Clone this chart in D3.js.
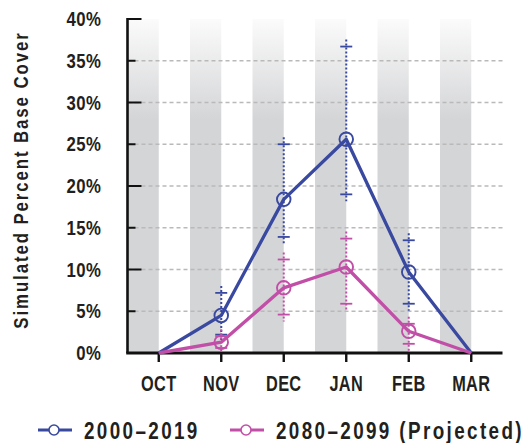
<!DOCTYPE html>
<html>
<head>
<meta charset="utf-8">
<script src="https://cdn.jsdelivr.net/npm/d3@7"></script>
<style>
  html, body { margin: 0; padding: 0; background: #fff; }
  svg { display: block; }
  text { font-family: "Liberation Sans", Arial, sans-serif; font-weight: bold; fill: #231f20; }
</style>
</head>
<body>
<svg id="chart" width="526" height="443"></svg>
<script>
// Months of the snow season
const months = ["OCT", "NOV", "DEC", "JAN", "FEB", "MAR"];

// 2000–2019: mean simulated percent base cover, with upper/lower range
const histMean = [0, 4.5, 18.4, 25.6, 9.7, 0];
const histHigh = [null, 7.2, 25.0, 36.7, 13.5, null];
const histLow  = [null, 2.2, 13.9, 19.0, 5.9, null];

// 2080–2099 (projected)
const projMean = [0, 1.3, 7.8, 10.3, 2.6, 0];
const projHigh = [null, 2.0, 11.2, 13.7, 3.5, null];
const projLow  = [null, 0.6, 4.6, 5.9, 1.1, null];

// Y axis ticks (percent)
const yTicks = [0, 5, 10, 15, 20, 25, 30, 35, 40];

const seriesNames = ["2000\u20132019", "2080\u20132099 (Projected)"];
const seriesColors = ["#3a49a0", "#c24fa7"];

const svg = d3.select("#chart");

const plotLeft = 127.5, plotRight = 502.5, plotTop = 19, plotBottom = 353;

const x = d3.scaleLinear().domain([-0.5, months.length - 0.5]).range([plotLeft, plotRight]);
const y = d3.scaleLinear().domain([0, 40]).range([plotBottom, plotTop]);

// Condensed look: squeeze glyphs horizontally around the anchor point
const squeeze = (tx, ty, sx, rot = 0) =>
  `translate(${tx},${ty})` + (rot ? ` rotate(${rot})` : "") + ` scale(${sx},1)`;

// Vertical gray bands fading to white toward the top
const defs = svg.append("defs");
const grad = defs.append("linearGradient")
  .attr("id", "bandFade")
  .attr("gradientUnits", "userSpaceOnUse")
  .attr("x1", 0).attr("x2", 0)
  .attr("y1", y(40)).attr("y2", y(0));
grad.append("stop").attr("offset", 0).attr("stop-color", "#fbfbfb");
grad.append("stop").attr("offset", 0.3).attr("stop-color", "#d4d5d7");
grad.append("stop").attr("offset", 1).attr("stop-color", "#d4d5d7");

svg.append("g").selectAll("rect")
  .data(months)
  .join("rect")
  .attr("x", (d, i) => x(i - 0.5))
  .attr("width", (d, i) => x(i) - x(i - 0.5))
  .attr("y", y(40))
  .attr("height", y(0) - y(40))
  .attr("fill", "url(#bandFade)");

// Dashed horizontal gridlines
svg.append("g").selectAll("line")
  .data(yTicks.filter(t => t > 0 && t < 40))
  .join("line")
  .attr("x1", plotLeft).attr("x2", plotRight)
  .attr("y1", d => y(d)).attr("y2", d => y(d))
  .attr("stroke", "#b9b9b9")
  .attr("stroke-width", 1.3)
  .attr("stroke-dasharray", "4,3");

// Y axis: ticks point inward, longer at every 10%
const yAxis = svg.append("g");
yAxis.append("line")
  .attr("x1", plotLeft).attr("x2", plotLeft)
  .attr("y1", y(40) - 1).attr("y2", y(0))
  .attr("stroke", "#111").attr("stroke-width", 2.6);
yAxis.selectAll("line.tick")
  .data(yTicks)
  .join("line")
  .attr("class", "tick")
  .attr("x1", plotLeft)
  .attr("x2", d => plotLeft + (d % 10 === 0 ? 14 : 8))
  .attr("y1", d => y(d)).attr("y2", d => y(d))
  .attr("stroke", "#111").attr("stroke-width", 2);
yAxis.selectAll("text")
  .data(yTicks)
  .join("text")
  .attr("transform", d => squeeze(101.5, y(d), 0.86))
  .attr("dy", "0.36em")
  .attr("text-anchor", "end")
  .attr("font-size", 19.5)
  .style("letter-spacing", "0.6px")
  .text(d => d + "%");

// X axis
const xAxis = svg.append("g");
xAxis.append("line")
  .attr("x1", plotLeft - 1.3).attr("x2", plotRight)
  .attr("y1", y(0)).attr("y2", y(0))
  .attr("stroke", "#111").attr("stroke-width", 2.8);
xAxis.selectAll("line.tick")
  .data(months)
  .join("line")
  .attr("class", "tick")
  .attr("x1", (d, i) => x(i)).attr("x2", (d, i) => x(i))
  .attr("y1", y(0)).attr("y2", y(0) + 9)
  .attr("stroke", "#111").attr("stroke-width", 2.4);
xAxis.selectAll("text")
  .data(months)
  .join("text")
  .attr("transform", (d, i) => squeeze(x(i), 390.5, 0.76))
  .attr("text-anchor", "middle")
  .attr("font-size", 21.5)
  .style("letter-spacing", "0.4px")
  .text(d => d);

// Y axis title
svg.append("text")
  .attr("transform", squeeze(27.5, (y(0) + y(40)) / 2 - 6, 0.8, -90))
  .attr("text-anchor", "middle")
  .attr("font-size", 21)
  .style("letter-spacing", "2.4px")
  .text("Simulated Percent Base Cover");

// Series drawing
const series = [
  { mean: histMean, high: histHigh, low: histLow, color: seriesColors[0] },
  { mean: projMean, high: projHigh, low: projLow, color: seriesColors[1] }
];

const capHalf = 6, overhang = 7;

series.forEach(s => {
  const idx = d3.range(months.length).filter(i => s.high[i] != null);
  const g = svg.append("g");
  // dotted range line
  g.selectAll("line.range")
    .data(idx)
    .join("line")
    .attr("class", "range")
    .attr("x1", i => x(i)).attr("x2", i => x(i))
    .attr("y1", i => y(s.high[i]) - overhang)
    .attr("y2", i => Math.min(y(s.low[i]) + overhang, y(0)))
    .attr("stroke", s.color)
    .attr("stroke-width", 2)
    .attr("stroke-dasharray", "2,2");
  // caps
  ["high", "low"].forEach(k => {
    g.selectAll("line.cap-" + k)
      .data(idx)
      .join("line")
      .attr("class", "cap-" + k)
      .attr("x1", i => x(i) - capHalf).attr("x2", i => x(i) + capHalf)
      .attr("y1", i => y(s[k][i])).attr("y2", i => y(s[k][i]))
      .attr("stroke", s.color)
      .attr("stroke-width", 1.8);
  });
});

const line = d3.line().x((d, i) => x(i)).y(d => y(d));

series.forEach(s => {
  svg.append("path")
    .attr("d", line(s.mean))
    .attr("fill", "none")
    .attr("stroke", s.color)
    .attr("stroke-width", 3.3)
    .attr("stroke-linejoin", "round");
  const idx = d3.range(months.length).filter(i => s.high[i] != null);
  svg.append("g").selectAll("circle")
    .data(idx)
    .join("circle")
    .attr("cx", i => x(i))
    .attr("cy", i => y(s.mean[i]))
    .attr("r", 6.8)
    .attr("fill", "none")
    .attr("stroke", s.color)
    .attr("stroke-width", 1.9);
});

// Legend
const legendItems = [
  { name: seriesNames[0], color: seriesColors[0], x0: 38 },
  { name: seriesNames[1], color: seriesColors[1], x0: 230 }
];
const lg = svg.append("g");
legendItems.forEach(it => {
  lg.append("line")
    .attr("x1", it.x0).attr("x2", it.x0 + 34)
    .attr("y1", 430).attr("y2", 430)
    .attr("stroke", it.color).attr("stroke-width", 3);
  lg.append("circle")
    .attr("cx", it.x0 + 16).attr("cy", 430).attr("r", 5)
    .attr("fill", "#fff")
    .attr("stroke", it.color).attr("stroke-width", 1.6);
  lg.append("text")
    .attr("transform", squeeze(it.x0 + 46, 438.5, 0.82))
    .attr("font-size", 23)
    .style("letter-spacing", "2.9px")
    .text(it.name);
});
</script>
</body>
</html>
